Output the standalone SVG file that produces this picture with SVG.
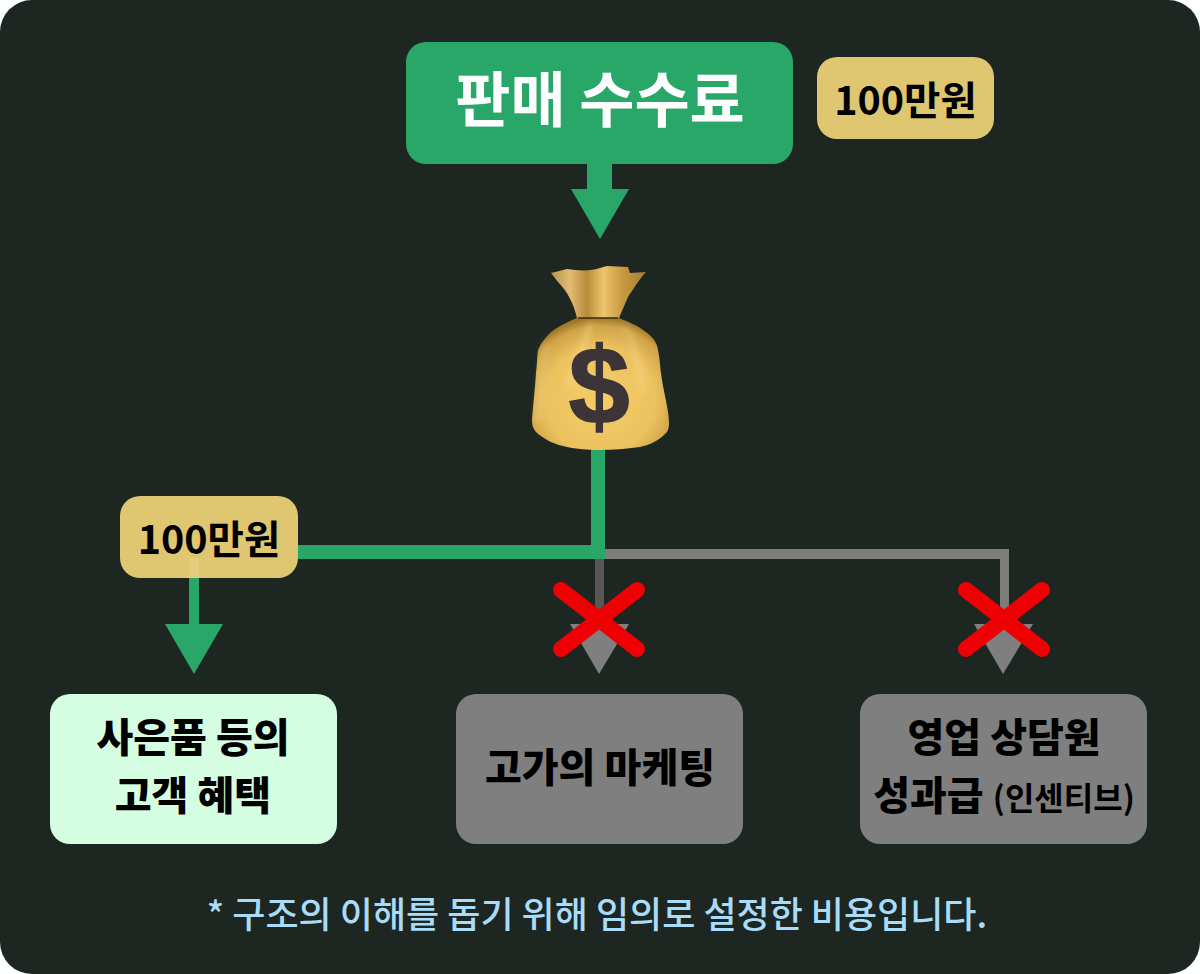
<svg xmlns="http://www.w3.org/2000/svg" width="1200" height="974" viewBox="0 0 1200 974">
<style>
text{font-family:"Noto Sans CJK KR","Noto Sans",sans-serif;text-anchor:middle}
.g{fill:#29a768}.y{fill:#dfc670}.n{fill:#7f7f7f}
.t{font-size:40px;font-weight:900;fill:#000}
.b{font-size:39.500px;font-weight:700;fill:#000}
.x{stroke:#ee0004;stroke-width:16;stroke-linecap:round;fill:none}
.f{fill:none;stroke-linecap:round}
</style>
<defs>
<radialGradient id="bag" cx="50%" cy="62%" r="62%"><stop offset="0" stop-color="#f3cd68"/><stop offset=".65" stop-color="#ecc25f"/><stop offset=".9" stop-color="#d0a347"/><stop offset="1" stop-color="#a07a2c"/></radialGradient>
<linearGradient id="neck" x1="0" x2="1" y1="0" y2="0"><stop offset="0" stop-color="#b8914c"/><stop offset=".2" stop-color="#e3bc72"/><stop offset=".38" stop-color="#b98b3a"/><stop offset=".55" stop-color="#eec46e"/><stop offset=".75" stop-color="#c9993f"/><stop offset="1" stop-color="#a67c33"/></linearGradient>
<filter id="soft" x="-20%" y="-20%" width="140%" height="140%"><feGaussianBlur stdDeviation="3"/></filter>
</defs>
<rect width="1200" height="974" fill="#fff"/>
<rect width="1200" height="974" rx="32" fill="#1d2620"/>
<g id="connectors">
<rect class="g" x="587" y="160" width="25" height="32"/>
<polygon class="g" points="571,189 629,189 600,239"/>
<rect x="600" y="549" width="409" height="10" fill="#7b7e7a"/>
<rect x="1000" y="549" width="9" height="80" fill="#7b7e7a"/>
<rect x="595" y="559" width="9" height="70" fill="#555856"/>
<rect class="g" x="591" y="445" width="14" height="114"/>
<rect class="g" x="290" y="545" width="315" height="14"/>
<rect class="g" x="189" y="570" width="10" height="60"/>
<polygon class="g" points="165,624 223,624 194,674"/>
<polygon class="n" points="570,624 629,624 599,674"/>
<polygon class="n" points="974,624 1033,624 1003,674"/>
</g>
<g id="fee"><rect class="g" x="406" y="42" width="387" height="122" rx="20"/><text x="600" y="122" font-size="60" font-weight="700" fill="#fff">판매 수수료</text></g>
<g id="fee-amount"><rect class="y" x="817" y="57" width="177" height="82" rx="20"/><text class="b" x="905.500" y="115">100만원</text></g>
<g id="money-bag">
<path d="M551 273L567 269C580 271 592 271 600 268L607 266L628 267L630 273L646 272C640 278 634 288 628 297C625 304 622 311 619 318H577C574 305 568 292 558 282Z" fill="url(#neck)"/>
<path d="M577 318H619C628 322 637 325 643 330C652 336 657 342 658 350C660 360 660 366 661 373C663 390 669 410 669 423C669 428 668 430 667 432C660 440 650 445 640 447C626 449 612 450 600 450C588 450 576 449 567 447C556 445 545 440 537 433C533 429 532 425 532 420C533 405 535 390 536 373C537 365 537 357 538 350C541 343 545 338 550 333C558 326 568 322 577 318Z" fill="url(#bag)"/>
<g class="f" filter="url(#soft)">
<path d="M590 325C585 345 575 360 570 385" stroke="#fff0b0" stroke-width="5" opacity=".35"/>
<path d="M625 328C635 345 640 365 642 390" stroke="#fff0b0" stroke-width="5" opacity=".3"/>
<path d="M545 345C542 370 540 395 538 420" stroke="#fff0b0" stroke-width="5" opacity=".25"/>
</g>
<path d="M578 318H618" stroke="#3a2a14" stroke-width="1.500"/>
<text x="599" y="424" font-size="110" font-weight="700" fill="#3d3438" stroke="#3d3438" stroke-width="1.500" style="font-family:'Liberation Sans',sans-serif">$</text>
</g>
<g id="benefit-amount"><rect x="120" y="496" width="178" height="82" rx="20" class="y"/><rect x="189" y="558" width="10" height="20" fill="#e5cd80"/><text class="b" x="209" y="554">100만원</text></g>
<g id="benefit"><rect x="50" y="694" width="287" height="150" rx="20" fill="#d5fde1"/><text class="t" x="193" y="752">사은품 등의</text><text class="t" x="193" y="810">고객 혜택</text></g>
<g id="marketing"><rect class="n" x="456" y="694" width="287" height="150" rx="20"/><text class="t" x="600" y="782">고가의 마케팅</text></g>
<g id="incentive"><rect class="n" x="860" y="694" width="287" height="150" rx="20"/><text class="t" x="1004" y="752">영업 상담원</text><text class="t" x="1004" y="810">성과급 <tspan font-size="32" font-weight="700">(인센티브)</tspan></text></g>
<g id="crosses">
<path class="x" d="M561 590L637 649M637 590L561 649"/>
<path class="x" d="M966 590L1042 649M1042 590L966 649"/>
</g>
<text x="597" y="928" font-size="36" font-weight="500" fill="#a8dcf8">* 구조의 이해를 돕기 위해 임의로 설정한 비용입니다.</text>
</svg>
